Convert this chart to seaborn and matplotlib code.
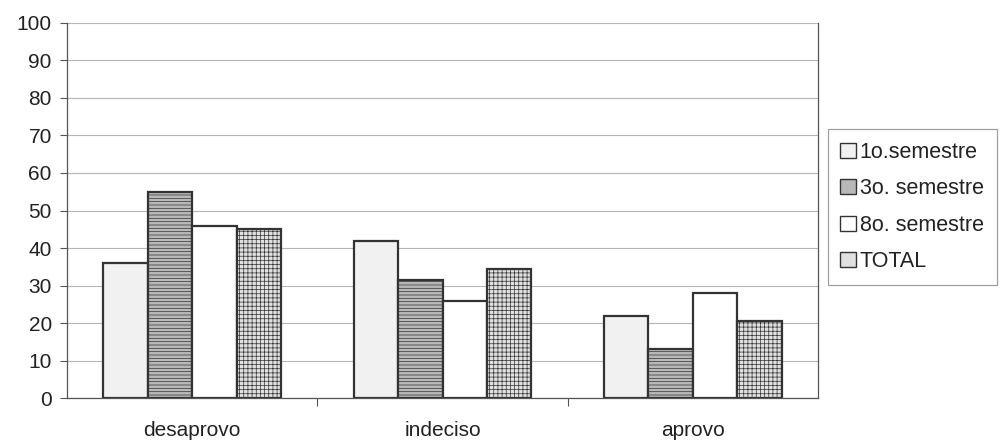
import pandas as pd
import matplotlib
matplotlib.use("Agg")
import matplotlib.pyplot as plt
import seaborn as sns

categorias = ['desaprovo', 'indeciso', 'aprovo']
series = ['1o.semestre', '3o. semestre', '8o. semestre', 'TOTAL']
sem1 = [36, 42, 22]
sem3 = [55, 31.5, 13]
sem8 = [46, 26, 28]
total = [45, 34.5, 20.5]

cores = ['#f1f1f1', '#b8b8b8', '#ffffff', '#e0e0e0']
hachuras = ['', '-----', '', '++++']

rows = []
for nome, vals in zip(series, [sem1, sem3, sem8, total]):
    for cat, v in zip(categorias, vals):
        rows.append({'categoria': cat, 'serie': nome, 'valor': v})
df = pd.DataFrame(rows)

sns.set_style('white')
plt.rcParams['font.family'] = ['Liberation Sans', 'DejaVu Sans']
plt.rcParams['hatch.color'] = '#9a9a9a'
plt.rcParams['hatch.linewidth'] = 0.5

fig = plt.figure(figsize=(10.08, 4.42), dpi=100)
ax = fig.add_axes([0.0665, 0.0995, 0.745, 0.8485])

sns.barplot(data=df, x='categoria', y='valor', hue='serie', palette=cores,
            width=0.71, edgecolor='#333333', linewidth=1.6, saturation=1,
            ax=ax, legend=True)

for cont, h in zip(ax.containers, hachuras):
    for barra in cont:
        barra.set_hatch(h)

ax.set_ylim(0, 100)
ax.set_xlim(-0.5, 2.5)
ax.set_yticks(range(0, 101, 10))
ax.yaxis.grid(True, color='#b5b5b5', linewidth=0.8)
ax.set_axisbelow(True)
ax.set_xlabel('')
ax.set_ylabel('')

ax.spines['top'].set_visible(False)
for lado in ['left', 'right', 'bottom']:
    ax.spines[lado].set_color('#555555')
    ax.spines[lado].set_linewidth(0.9)

ax.tick_params(axis='y', which='major', left=True, length=5, width=0.8,
               color='#555555', labelsize=15, pad=6, labelcolor='#222222')
ax.tick_params(axis='x', which='major', bottom=False, labelsize=15, pad=13,
               labelcolor='#222222')
ax.set_xticks([0.5, 1.5], minor=True)
ax.tick_params(axis='x', which='minor', bottom=True, length=6, width=0.8,
               color='#555555')

leg = ax.legend(loc='upper left', bbox_to_anchor=(0.821, 0.708),
                bbox_transform=fig.transFigure, frameon=True, fancybox=False,
                fontsize=15.5, handlelength=0.7, handleheight=0.7,
                handletextpad=0.2, labelspacing=0.72, borderpad=0.6,
                borderaxespad=0)
leg.get_frame().set_edgecolor('#888888')
leg.get_frame().set_linewidth(0.9)
for t in leg.get_texts():
    t.set_color('#222222')
for p in leg.get_patches():
    p.set_linewidth(1.0)

fig.savefig('out.png', dpi=100)
